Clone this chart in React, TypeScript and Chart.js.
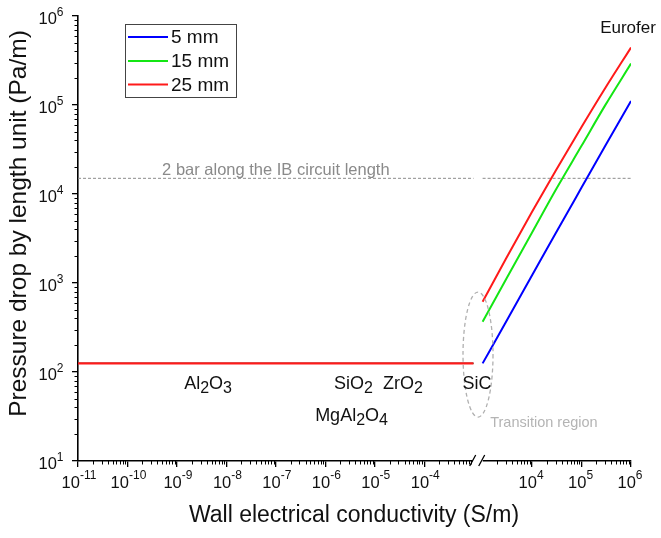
import React, { useEffect, useRef } from 'react';
import { Chart, registerables } from 'chart.js';

Chart.register(...registerables);

// ---------- data ----------
const seriesLabels = ['5 mm', '15 mm', '25 mm'];
const seriesColors = ['#0000ff', '#14e614', '#ff1a1a'];

// insulating branch (left part of the broken axis)
const sigmaLeft = [1e-11, 1e-3];
const plateau5mm = [125, 125];
const plateau15mm = [125, 125];
const plateau25mm = [125, 125];

// conducting branch (right part of the broken axis)
const sigmaRight = [1e3, 3e3, 1e4, 3e4, 1e5, 3e5, 1e6];
const drop5mm = [125, 370, 1220, 3620, 11800, 34600, 111000];
const drop15mm = [366, 1110, 3700, 11100, 34800, 99000, 292000];
const drop25mm = [615, 1900, 6300, 18300, 56500, 154000, 442000];

// 2 bar limit line
const limitValue = [15000, 15000];
const limitLeftX = [1e-11, 1e-3];
const limitRightX = [1e3, 1e6];

// ticks
const xLeftTicks = [1e-11, 1e-10, 1e-9, 1e-8, 1e-7, 1e-6, 1e-5, 1e-4];
const xLeftTickLabels = ['10⁻¹¹', '10⁻¹⁰', '10⁻⁹', '10⁻⁸', '10⁻⁷', '10⁻⁶', '10⁻⁵', '10⁻⁴'];
const xRightTicks = [1e4, 1e5, 1e6];
const xRightTickLabels = ['10⁴', '10⁵', '10⁶'];
const yTicks = [1e1, 1e2, 1e3, 1e4, 1e5, 1e6];
const yTickLabels = ['10¹', '10²', '10³', '10⁴', '10⁵', '10⁶'];

// text notes, anchored (centre, baseline) in data coordinates
const notes = [
  { text: 'Al₂O₃', axis: 'xL', x: Math.pow(10, -8.37), y: 64, color: '#111', size: 18 },
  { text: 'SiO₂', axis: 'xL', x: Math.pow(10, -5.43), y: 64, color: '#111', size: 18 },
  { text: 'ZrO₂', axis: 'xL', x: Math.pow(10, -4.43), y: 64, color: '#111', size: 18 },
  { text: 'MgAl₂O₄', axis: 'xL', x: Math.pow(10, -5.47), y: 27.8, color: '#111', size: 18 },
  { text: 'SiC', axis: 'xR', x: Math.pow(10, 2.887), y: 64, color: '#111', size: 18 },
  { text: 'Transition region', axis: 'xR', x: Math.pow(10, 4.24), y: 24.1, color: '#b4b4b4', size: 14.5 },
  { text: 'Eurofer', axis: 'xR', x: Math.pow(10, 5.94), y: 640000, color: '#111', size: 17 },
  { text: '2 bar along the IB circuit length', axis: 'xL', x: 1e-7, y: 16300, color: '#8a8a8a', size: 16.5 },
];

const FONT = '"Liberation Sans", Arial, Helvetica, sans-serif';

const pts = (xs: number[], ys: number[]) => xs.map((x, i) => ({ x, y: ys[i] }));

const minorTicks = (lo: number, hi: number) => {
  const out: number[] = [];
  for (let e = lo; e < hi; e++) {
    for (let k = 2; k <= 9; k++) out.push(k * Math.pow(10, e));
  }
  return out;
};

// split a string into normal / superscript / subscript runs
const SUP: Record<string, string> = { '⁰': '0', '¹': '1', '²': '2', '³': '3', '⁴': '4', '⁵': '5', '⁶': '6', '⁷': '7', '⁸': '8', '⁹': '9', '⁻': '-' };
const SUB: Record<string, string> = { '₀': '0', '₁': '1', '₂': '2', '₃': '3', '₄': '4', '₅': '5', '₆': '6', '₇': '7', '₈': '8', '₉': '9' };
type Run = { t: string; k: 'n' | 'sup' | 'sub' };
const runs = (s: string): Run[] => {
  const out: Run[] = [];
  for (const ch of Array.from(s)) {
    const k: Run['k'] = SUP[ch] ? 'sup' : SUB[ch] ? 'sub' : 'n';
    const c = SUP[ch] || SUB[ch] || ch;
    const last = out[out.length - 1];
    if (last && last.k === k) last.t += c;
    else out.push({ t: c, k });
  }
  return out;
};

const drawRich = (
  ctx: CanvasRenderingContext2D,
  s: string,
  x: number,
  y: number,
  size: number,
  small: number,
  supRise: number,
  subDrop: number,
  align: 'center' | 'right' | 'left',
) => {
  const rs = runs(s);
  const fontFor = (k: Run['k']) => `${k === 'n' ? size : small}px ${FONT}`;
  let total = 0;
  const widths = rs.map((r) => {
    ctx.font = fontFor(r.k);
    const w = ctx.measureText(r.t).width;
    total += w;
    return w;
  });
  let cx = align === 'center' ? x - total / 2 : align === 'right' ? x - total : x;
  ctx.textAlign = 'left';
  ctx.textBaseline = 'alphabetic';
  rs.forEach((r, i) => {
    ctx.font = fontFor(r.k);
    const dy = r.k === 'sup' ? -supRise : r.k === 'sub' ? subDrop : 0;
    ctx.fillText(r.t, cx, y + dy);
    cx += widths[i];
  });
};

const decorPlugin = {
  id: 'decor',
  afterDraw(chart: any) {
    const ctx = chart.ctx as CanvasRenderingContext2D;
    const xL = chart.scales.xL;
    const xR = chart.scales.xR;
    const y = chart.scales.y;
    const axisY = y.bottom;
    const axisX = y.right;
    ctx.save();

    // minor ticks
    ctx.strokeStyle = '#000';
    ctx.lineWidth = 1;
    ctx.beginPath();
    for (const v of minorTicks(-11, -3)) {
      const px = Math.round(xL.getPixelForValue(v)) + 0.5;
      ctx.moveTo(px, axisY);
      ctx.lineTo(px, axisY + 3.5);
    }
    for (const v of minorTicks(3, 6)) {
      const px = Math.round(xR.getPixelForValue(v)) + 0.5;
      ctx.moveTo(px, axisY);
      ctx.lineTo(px, axisY + 3.5);
    }
    for (const v of minorTicks(1, 6)) {
      const py = Math.round(y.getPixelForValue(v)) + 0.5;
      ctx.moveTo(axisX, py);
      ctx.lineTo(axisX - 3.5, py);
    }
    ctx.stroke();

    // tick labels
    ctx.fillStyle = '#111';
    xL.ticks.forEach((t: any, i: number) => {
      drawRich(ctx, xLeftTickLabels[i], xL.getPixelForValue(t.value) + 1, axisY + 27, 16.5, 12, 9.5, 0, 'center');
    });
    xR.ticks.forEach((t: any, i: number) => {
      drawRich(ctx, xRightTickLabels[i], xR.getPixelForValue(t.value) - 1, axisY + 27, 16.5, 12, 9.5, 0, 'center');
    });
    y.ticks.forEach((t: any, i: number) => {
      drawRich(ctx, yTickLabels[i], 63.5, y.getPixelForValue(t.value) + 7.5, 16.5, 12, 8, 0, 'right');
    });

    // axis break
    const bx = xL.right;
    ctx.fillStyle = '#fff';
    ctx.fillRect(bx - 1, axisY - 3, 10, 6);
    ctx.strokeStyle = '#000';
    ctx.lineWidth = 1.3;
    ctx.beginPath();
    ctx.moveTo(bx - 4, axisY + 5);
    ctx.lineTo(bx + 2, axisY - 6);
    ctx.moveTo(bx + 5, axisY + 5);
    ctx.lineTo(bx + 11, axisY - 6);
    ctx.stroke();

    // transition region ellipse
    ctx.strokeStyle = '#b0b0b0';
    ctx.lineWidth = 1.3;
    ctx.setLineDash([4, 3]);
    ctx.beginPath();
    ctx.ellipse(xR.getPixelForValue(Math.pow(10, 2.907)), y.getPixelForValue(157), 15, 62.5, 0, 0, Math.PI * 2);
    ctx.stroke();
    ctx.setLineDash([]);

    // notes
    for (const n of notes) {
      const sc = chart.scales[n.axis];
      ctx.fillStyle = n.color;
      drawRich(ctx, n.text, sc.getPixelForValue(n.x), y.getPixelForValue(n.y), n.size, 16, 0, 4, 'center');
    }

    // legend
    const lx = 125.5, ly = 24.5, lw = 111, lh = 73;
    ctx.strokeStyle = '#444';
    ctx.lineWidth = 1;
    ctx.strokeRect(lx, ly, lw, lh);
    const rows = [37, 61, 84.5];
    ctx.textAlign = 'left';
    ctx.textBaseline = 'middle';
    ctx.font = `19px ${FONT}`;
    seriesLabels.forEach((lab, i) => {
      ctx.strokeStyle = seriesColors[i];
      ctx.lineWidth = 2;
      ctx.beginPath();
      ctx.moveTo(128, rows[i]);
      ctx.lineTo(168, rows[i]);
      ctx.stroke();
      ctx.fillStyle = '#111';
      ctx.fillText(lab, 171, rows[i] + 1);
    });

    // axis titles
    ctx.fillStyle = '#111';
    ctx.textAlign = 'center';
    ctx.textBaseline = 'middle';
    ctx.font = `23px ${FONT}`;
    ctx.fillText('Wall electrical conductivity (S/m)', 354, 516);
    ctx.save();
    ctx.translate(19.5, 223.5);
    ctx.rotate(-Math.PI / 2);
    ctx.font = `24.5px ${FONT}`;
    ctx.fillText('Pressure drop by length unit (Pa/m)', 0, 0);
    ctx.restore();

    ctx.restore();
  },
};

const axisCommon = {
  grid: { display: true, drawOnChartArea: false, drawTicks: true, tickLength: 6, color: '#000', lineWidth: 1.3 },
  border: { display: true, color: '#000', width: 1.6 },
  ticks: { display: false },
};

export default function App() {
  const ref = useRef<HTMLCanvasElement | null>(null);

  useEffect(() => {
    if (!ref.current) return;
    const lineDs = (label: string, axis: string, xs: number[], ys: number[], color: string, order: number, width: number) => ({
      label,
      data: pts(xs, ys),
      xAxisID: axis,
      yAxisID: 'y',
      borderColor: color,
      backgroundColor: color,
      borderWidth: width,
      pointRadius: 0,
      cubicInterpolationMode: 'monotone',
      fill: false,
      order,
    });
    const chart = new Chart(ref.current, {
      type: 'line',
      data: {
        datasets: [
          lineDs(seriesLabels[0], 'xL', sigmaLeft, plateau5mm, seriesColors[0], 3, 1.2),
          lineDs(seriesLabels[1], 'xL', sigmaLeft, plateau15mm, seriesColors[1], 2, 1.2),
          lineDs(seriesLabels[2], 'xL', sigmaLeft, plateau25mm, seriesColors[2], 1, 2.2),
          lineDs(seriesLabels[0], 'xR', sigmaRight, drop5mm, seriesColors[0], 3, 2),
          lineDs(seriesLabels[1], 'xR', sigmaRight, drop15mm, seriesColors[1], 2, 2),
          lineDs(seriesLabels[2], 'xR', sigmaRight, drop25mm, seriesColors[2], 1, 2),
          {
            label: '2 bar',
            data: pts(limitLeftX, limitValue),
            xAxisID: 'xL',
            yAxisID: 'y',
            borderColor: '#8c8c8c',
            borderWidth: 1,
            borderDash: [3, 2],
            pointRadius: 0,
            order: 5,
          },
          {
            label: '2 bar',
            data: pts(limitRightX, limitValue),
            xAxisID: 'xR',
            yAxisID: 'y',
            borderColor: '#8c8c8c',
            borderWidth: 1,
            borderDash: [3, 2],
            pointRadius: 0,
            order: 5,
          },
        ],
      },
      options: {
        animation: false,
        responsive: false,
        maintainAspectRatio: false,
        layout: { padding: { top: 16, right: 30, left: 0, bottom: 0 } },
        plugins: { legend: { display: false }, tooltip: { enabled: false }, title: { display: false } },
        scales: {
          xL: {
            type: 'logarithmic',
            position: 'bottom',
            stack: 'x',
            stackWeight: 8,
            min: 1e-11,
            max: 1e-3,
            ...axisCommon,
            afterBuildTicks: (s: any) => { s.ticks = xLeftTicks.map((v) => ({ value: v })); },
            afterFit: (s: any) => { s.height = 77; },
          },
          xR: {
            type: 'logarithmic',
            position: 'bottom',
            stack: 'x',
            stackWeight: 3.18,
            min: Math.pow(10, 2.82),
            max: 1e6,
            ...axisCommon,
            afterBuildTicks: (s: any) => { s.ticks = xRightTicks.map((v) => ({ value: v })); },
            afterFit: (s: any) => { s.height = 77; },
          },
          y: {
            type: 'logarithmic',
            position: 'left',
            min: 10,
            max: 1e6,
            ...axisCommon,
            afterBuildTicks: (s: any) => { s.ticks = yTicks.map((v) => ({ value: v })); },
            afterFit: (s: any) => { s.width = 78; },
          },
        },
      },
      plugins: [decorPlugin],
    } as any);
    return () => chart.destroy();
  }, []);

  return (
    <div style={{ position: 'fixed', left: 0, top: 0, width: 661, height: 538, background: '#fff' }}>
      <canvas ref={ref} width={661} height={538} style={{ display: 'block' }} />
    </div>
  );
}
